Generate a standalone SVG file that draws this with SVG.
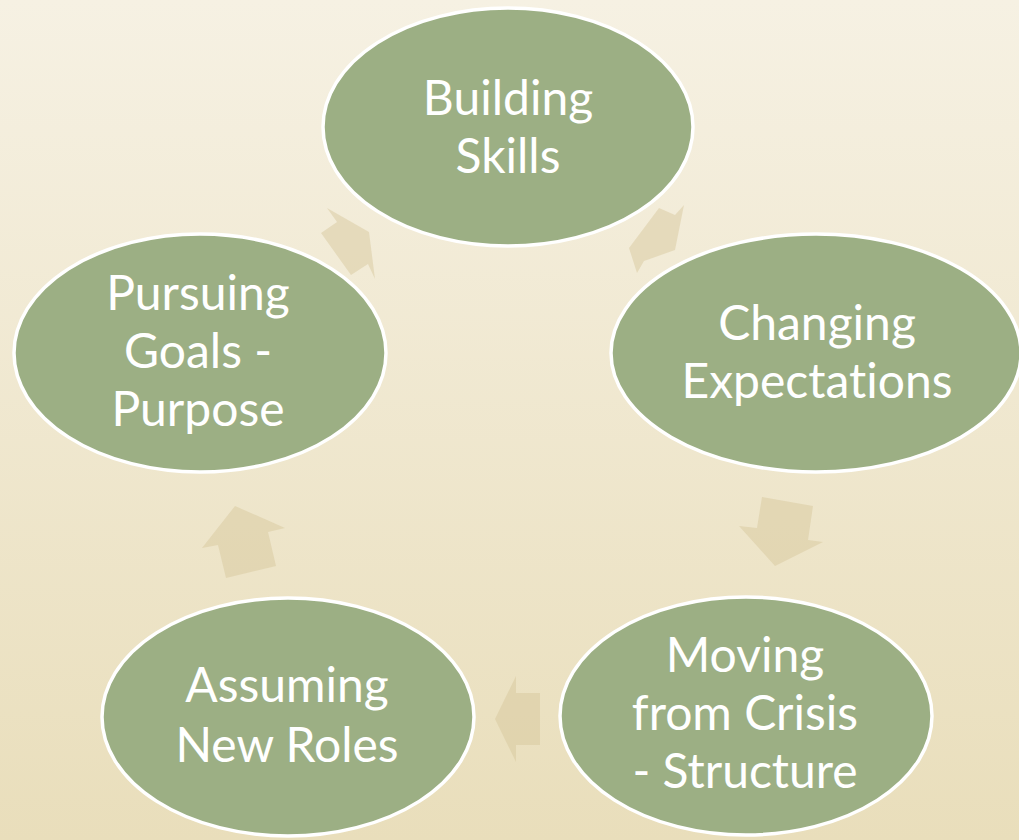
<svg xmlns="http://www.w3.org/2000/svg" width="1019" height="840" viewBox="0 0 1019 840">
  <defs>
    <linearGradient id="bg" x1="0" y1="0" x2="0" y2="1">
      <stop offset="0" stop-color="#f6f1e3"/>
      <stop offset="1" stop-color="#e9debb"/>
    </linearGradient>
    <style>
      .node { fill: #9caf84; stroke: #ffffff; stroke-width: 3.5; }
      .lbl { font-family: Lato, "Liberation Sans", sans-serif; font-size: 48px; fill: #ffffff; text-anchor: middle; font-variant-ligatures: none; font-feature-settings: "liga" 0, "clig" 0; }
      .arr { fill: #d4c69a; fill-opacity: 0.45; stroke: none; }
    </style>
  </defs>
  <rect x="0" y="0" width="1019" height="840" fill="url(#bg)"/>

  <g id="connectors">
    <polygon class="arr" points="327,208 337,222 321,233 351,275 368,264 375,279 369,232"/>
    <polygon class="arr" points="659,208 675,215 684,205 675,250 644,261 637,273 629,248"/>
    <polygon class="arr" points="762,497 813,506 808,540 823,542 775,566 739,526 757,528"/>
    <polygon class="arr" points="540,693 540,745 516,745 516,762 495,719 516,676 516,693"/>
    <polygon class="arr" points="235,506 285,528 268,532 276,566 226,578 218,545 202,548"/>
  </g>

  <g id="node-building-skills">
    <ellipse class="node" cx="508" cy="127" rx="185" ry="119"/>
    <text class="lbl" x="508" y="115">Building</text>
    <text class="lbl" x="508" y="173">Skills</text>
  </g>

  <g id="node-changing-expectations">
    <ellipse class="node" cx="816" cy="353" rx="205" ry="119"/>
    <text class="lbl" x="817" y="340">Changing</text>
    <text class="lbl" x="817" y="398">Expectations</text>
  </g>

  <g id="node-moving-from-crisis">
    <ellipse class="node" cx="746" cy="716" rx="186" ry="119"/>
    <text class="lbl" x="745" y="672">Moving</text>
    <text class="lbl" x="745" y="730">from Crisis</text>
    <text class="lbl" x="745" y="788">- Structure</text>
  </g>

  <g id="node-assuming-new-roles">
    <ellipse class="node" cx="288" cy="717" rx="186" ry="119"/>
    <text class="lbl" x="287" y="702">Assuming</text>
    <text class="lbl" x="287" y="762">New Roles</text>
  </g>

  <g id="node-pursuing-goals">
    <ellipse class="node" cx="200" cy="353" rx="186" ry="119"/>
    <text class="lbl" x="198" y="310">Pursuing</text>
    <text class="lbl" x="198" y="368">Goals -</text>
    <text class="lbl" x="198" y="426">Purpose</text>
  </g>
</svg>
